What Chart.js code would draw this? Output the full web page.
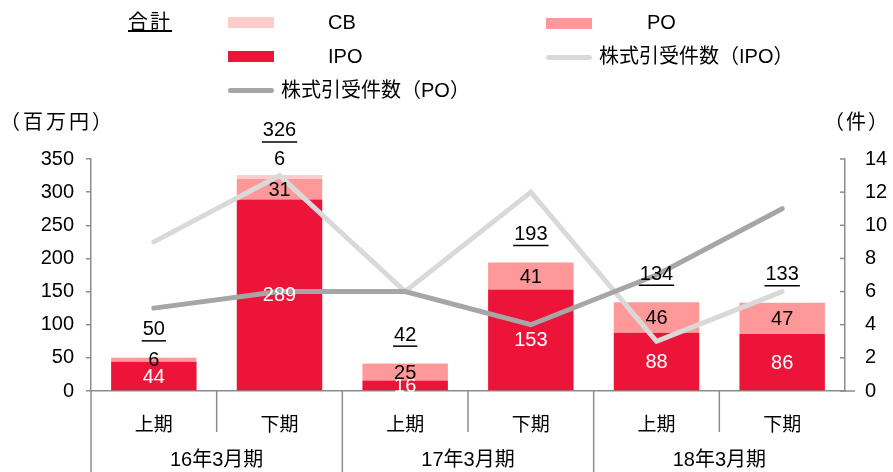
<!DOCTYPE html>
<html>
<head>
<meta charset="utf-8">
<script src="https://cdn.jsdelivr.net/npm/chart.js@4/dist/chart.umd.min.js"></script>
<style>
  body { margin: 0; background: #fff; }
  #wrap { position: relative; width: 893px; height: 472px; font-family: "Liberation Sans", "Noto Sans CJK JP", sans-serif; color: #000; }
  #wrap canvas { position: absolute; left: 0; top: 0; }
  .lg { position: absolute; font-size: 20px; line-height: 22px; white-space: nowrap; }
  .box { position: absolute; height: 11px; width: 46px; }
  .ln { position: absolute; height: 5px; width: 46px; border-radius: 3px; }
</style>
</head>
<body>
<div id="wrap">
  <canvas id="chart" width="893" height="472"></canvas>
  <div class="lg" style="left:128px;top:11px;text-decoration:underline;letter-spacing:2px;">合計</div>
  <div class="box" style="left:228px;top:17px;background:#FFCCCC;"></div>
  <div class="lg" style="left:328px;top:11px;">CB</div>
  <div class="box" style="left:546px;top:18px;background:#FF9999;"></div>
  <div class="lg" style="left:647px;top:11px;">PO</div>
  <div class="box" style="left:228px;top:51px;background:#EC1438;"></div>
  <div class="lg" style="left:328px;top:45px;">IPO</div>
  <div class="ln" style="left:546px;top:55px;background:#D9D9D9;"></div>
  <div class="lg" style="left:599px;top:45px;">株式引受件数（IPO）</div>
  <div class="ln" style="left:228px;top:88px;background:#A6A6A6;"></div>
  <div class="lg" style="left:281px;top:79px;">株式引受件数（PO）</div>
  <div class="lg" style="left:0px;top:111px;letter-spacing:3px;">（百万円）</div>
  <div class="lg" style="left:824px;top:111px;letter-spacing:2px;">（件）</div>
</div>
<script>
const categories = ["上期", "下期", "上期", "下期", "上期", "下期"];
const fiscalYears = ["16年3月期", "17年3月期", "18年3月期"];
const ipoAmount = [44, 289, 16, 153, 88, 86];
const poAmount = [6, 31, 25, 41, 46, 47];
const cbAmount = [0, 6, 1, 0, 0, 0];
const totalAmount = [50, 326, 42, 193, 134, 133];
const ipoCount = [9, 13, 6, 12, 3, 6];
const poCount = [5, 6, 6, 4, 7, 11];

const axisGray = "#8C8C8C";
const labelFont = '20px "Liberation Sans", "Noto Sans CJK JP", sans-serif';

// labels on the bars + underlined totals
const barLabels = {
  id: "barLabels",
  afterDatasetsDraw(chart) {
    const ctx = chart.ctx;
    const ipoMeta = chart.getDatasetMeta(2);
    const poMeta = chart.getDatasetMeta(3);
    const cbMeta = chart.getDatasetMeta(4);
    ctx.save();
    ctx.font = labelFont;
    ctx.textAlign = "center";
    ctx.textBaseline = "middle";
    categories.forEach((c, i) => {
      const ipo = ipoMeta.data[i];
      const po = poMeta.data[i];
      const cb = cbMeta.data[i];
      ctx.fillStyle = "#fff";
      ctx.fillText(ipoAmount[i], ipo.x, (ipo.y + ipo.base) / 2 + 1);
      ctx.fillStyle = "#000";
      ctx.fillText(poAmount[i], po.x, (po.y + po.base) / 2 + 1);
      let offset = 28;
      if (cbAmount[i] >= 5) {
        ctx.fillText(cbAmount[i], cb.x, cb.y - 15);
        offset = 44;
      }
      const ty = cb.y - offset;
      ctx.fillText(totalAmount[i], cb.x, ty);
      const w = ctx.measureText(String(totalAmount[i])).width;
      ctx.strokeStyle = "#000";
      ctx.lineWidth = 1.5;
      ctx.beginPath();
      ctx.moveTo(cb.x - w / 2 - 1, ty + 11);
      ctx.lineTo(cb.x + w / 2 + 1, ty + 11);
      ctx.stroke();
    });
    ctx.restore();
  },
  afterDraw(chart) {
    const ctx = chart.ctx;
    const x = chart.scales.x;
    const y1 = chart.scales.y1;
    const bottom = chart.chartArea.bottom;
    const step = (x.right - x.left) / categories.length;
    ctx.save();
    ctx.strokeStyle = axisGray;
    ctx.lineWidth = 1.5;
    for (let i = 0; i < categories.length; i++) {
      const px = x.left + step * i;
      ctx.beginPath();
      ctx.moveTo(px, bottom);
      ctx.lineTo(px, i % 2 === 0 ? chart.height : bottom + 41);
      ctx.stroke();
    }
    // x axis runs a little past the right axis
    ctx.beginPath();
    ctx.moveTo(x.right, bottom);
    ctx.lineTo(x.right + 10, bottom);
    ctx.stroke();
    // inward ticks on the right axis
    y1.ticks.forEach((t) => {
      const py = y1.getPixelForValue(t.value);
      ctx.beginPath();
      ctx.moveTo(y1.left - 5, py);
      ctx.lineTo(y1.left, py);
      ctx.stroke();
    });
    ctx.font = labelFont;
    ctx.fillStyle = "#000";
    ctx.textAlign = "center";
    ctx.textBaseline = "middle";
    fiscalYears.forEach((fy, k) => {
      ctx.fillText(fy, x.left + step * (2 * k + 1), 460);
    });
    ctx.restore();
  },
};

new Chart(document.getElementById("chart").getContext("2d"), {
  type: "bar",
  data: {
    labels: categories,
    datasets: [
      {
        type: "line",
        label: "株式引受件数（PO）",
        data: poCount,
        yAxisID: "y1",
        borderColor: "#A6A6A6",
        borderWidth: 5,
        borderCapStyle: "round",
        pointRadius: 0,
        tension: 0,
        order: 0,
      },
      {
        type: "line",
        label: "株式引受件数（IPO）",
        data: ipoCount,
        yAxisID: "y1",
        borderColor: "#D9D9D9",
        borderWidth: 5,
        borderCapStyle: "round",
        pointRadius: 0,
        tension: 0,
        order: 1,
      },
      { label: "IPO", data: ipoAmount, backgroundColor: "#EC1438", order: 2 },
      { label: "PO", data: poAmount, backgroundColor: "#FF9999", order: 2 },
      { label: "CB", data: cbAmount, backgroundColor: "#FFCCCC", order: 2 },
    ],
  },
  options: {
    responsive: false,
    animation: false,
    layout: { padding: { top: 159, left: 0, right: 0, bottom: 0 } },
    datasets: { bar: { barPercentage: 1, categoryPercentage: 0.68 } },
    plugins: { legend: { display: false }, tooltip: { enabled: false } },
    scales: {
      x: {
        stacked: true,
        grid: { display: false },
        border: { color: axisGray, width: 1.5 },
        ticks: { color: "#000", font: { size: 19, family: '"Liberation Sans", "Noto Sans CJK JP"' }, padding: 15, maxRotation: 0 },
        afterFit: (s) => { s.height = 81; },
      },
      y: {
        stacked: true,
        min: 0,
        max: 350,
        ticks: { stepSize: 50, color: "#000", font: { size: 20, family: '"Liberation Sans"' }, padding: 12 },
        grid: { drawOnChartArea: false, tickLength: 5, color: axisGray, lineWidth: 1.5 },
        border: { color: axisGray, width: 1.5 },
        afterFit: (s) => { s.width = 91; },
      },
      y1: {
        position: "right",
        min: 0,
        max: 14,
        ticks: { stepSize: 2, color: "#000", font: { size: 20, family: '"Liberation Sans"' }, padding: 12 },
        grid: { display: false },
        border: { color: axisGray, width: 1.5 },
        afterFit: (s) => { s.width = 48; },
      },
    },
  },
  plugins: [barLabels],
});
</script>
</body>
</html>
